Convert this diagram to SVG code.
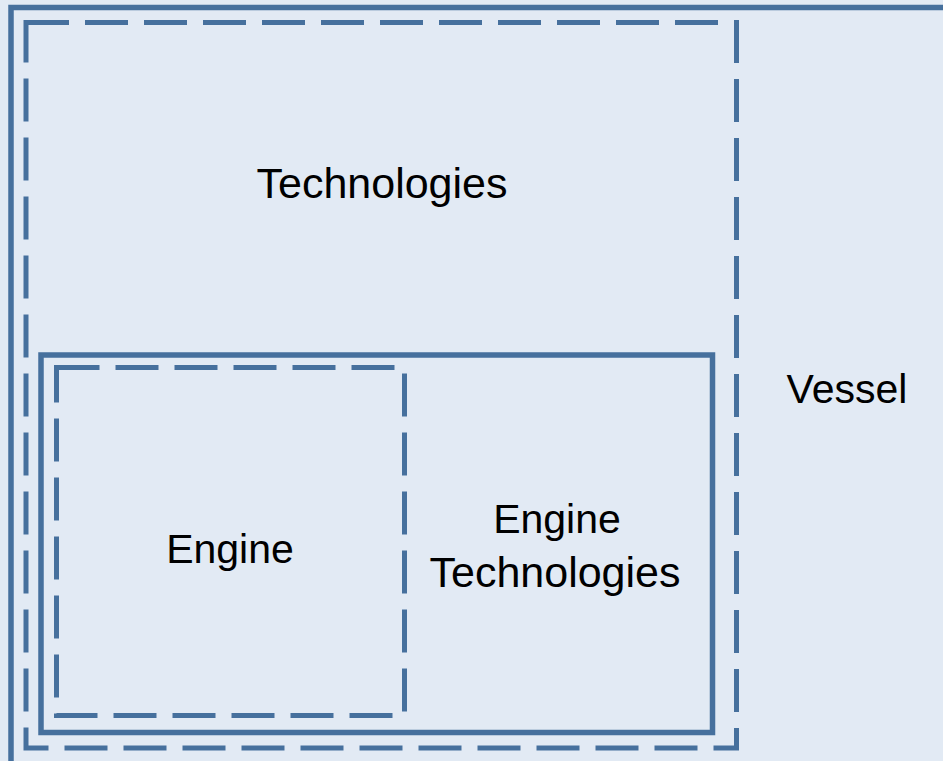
<svg xmlns="http://www.w3.org/2000/svg" width="943" height="761" viewBox="0 0 943 761">
<style>
.box{fill:none;stroke:#46709D;stroke-width:5.5}
.dash{fill:none;stroke:#46709D;stroke-width:5;stroke-dasharray:43 16}
.lbl{font-family:"Liberation Sans",Arial,sans-serif;font-size:41px;fill:#000;text-anchor:middle}
.wide{font-size:43px}
</style>
<rect x="0" y="0" width="943" height="761" fill="#E2EAF4"/>
<g id="vessel">
<rect class="box" x="11" y="7.5" width="940" height="760"/>
<text class="lbl" x="847" y="403">Vessel</text>
</g>
<g id="technologies">
<rect class="dash" x="26" y="22.5" width="710.5" height="725.5"/>
<text class="lbl wide" x="382" y="198">Technologies</text>
</g>
<g id="engine-technologies">
<rect class="box" x="41" y="355" width="671.5" height="377.5"/>
<text class="lbl" x="557" y="533">Engine</text>
<text class="lbl wide" x="555" y="587">Technologies</text>
</g>
<g id="engine">
<rect class="dash" x="56.5" y="367.5" width="348" height="348"/>
<text class="lbl" x="230" y="563">Engine</text>
</g>
<g id="connectors"></g>
</svg>
